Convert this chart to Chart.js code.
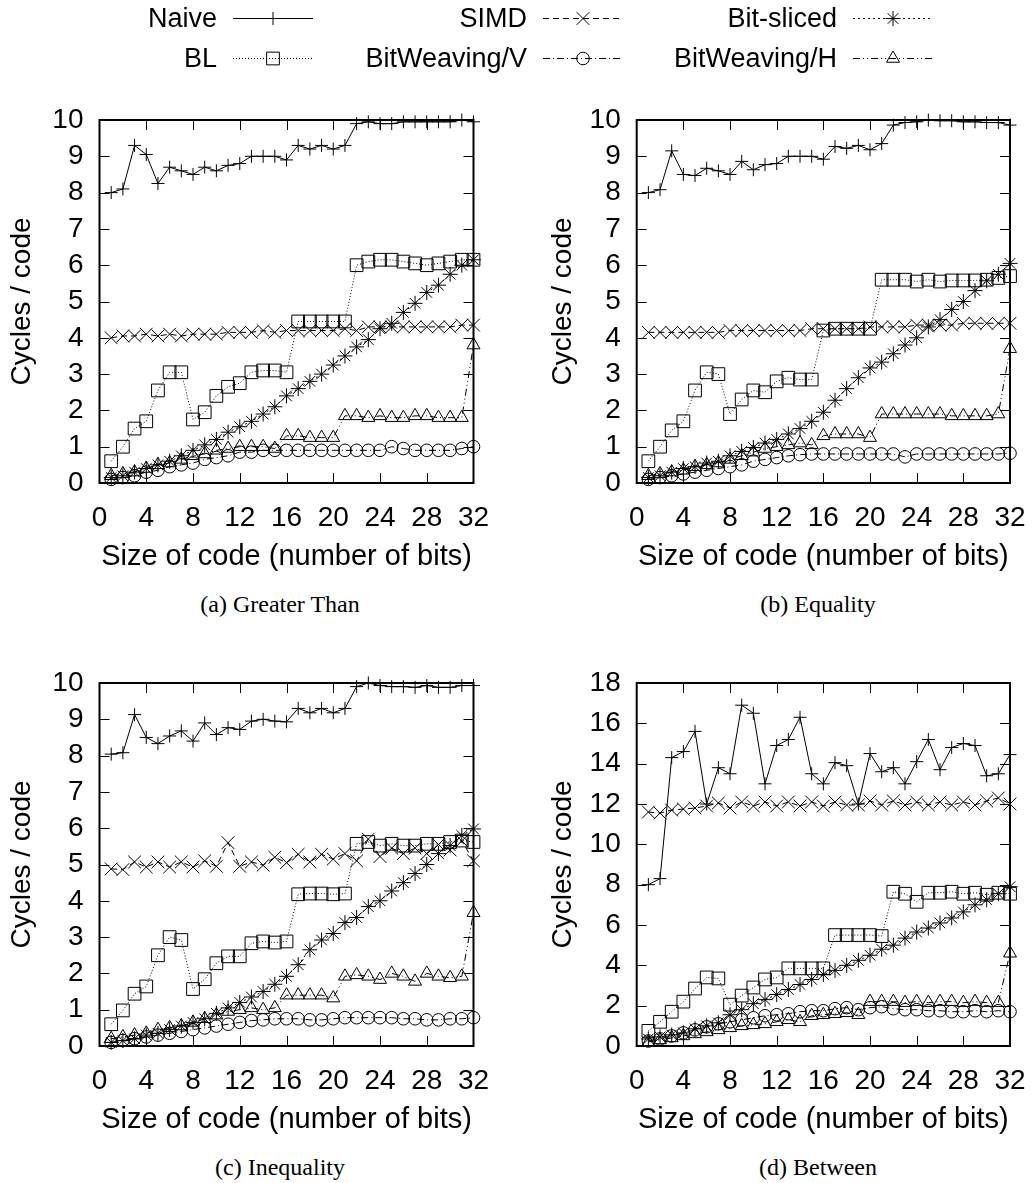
<!DOCTYPE html>
<html><head><meta charset="utf-8">
<script src="https://cdn.jsdelivr.net/npm/chart.js@4.4.1/dist/chart.umd.min.js"></script>
<style>
html,body{margin:0;padding:0;background:#fff;}
body{width:1035px;height:1183px;position:relative;overflow:hidden;font-family:"Liberation Sans",Arial,sans-serif;}
canvas{position:absolute;}
.lg{position:absolute;font-size:27px;color:#000;white-space:nowrap;line-height:30px;text-align:right;}
.cap{position:absolute;font-family:"Liberation Serif",serif;font-size:24px;line-height:30px;white-space:nowrap;color:#000;transform:translateX(-50%);}
</style></head><body>
<canvas id="legendCanvas" width="1035" height="80" style="left:0;top:0"></canvas>
<div class="lg" style="right:818px;top:3px">Naive</div>
<div class="lg" style="right:508px;top:3px">SIMD</div>
<div class="lg" style="right:198px;top:3px">Bit-sliced</div>
<div class="lg" style="right:818px;top:43px">BL</div>
<div class="lg" style="right:508px;top:43px">BitWeaving/V</div>
<div class="lg" style="right:198px;top:43px">BitWeaving/H</div>
<canvas id="cA" width="520" height="480" style="left:0;top:100px"></canvas>
<canvas id="cB" width="515" height="480" style="left:520px;top:100px"></canvas>
<canvas id="cC" width="520" height="480" style="left:0;top:663px"></canvas>
<canvas id="cD" width="515" height="480" style="left:520px;top:663px"></canvas>
<div class="cap" id="capA" style="left:280px;top:589px"></div>
<div class="cap" id="capB" style="left:818px;top:589px"></div>
<div class="cap" id="capC" style="left:280px;top:1152px"></div>
<div class="cap" id="capD" style="left:818px;top:1152px"></div>
<script>
// ---------- data ----------
const bits = [1,2,3,4,5,6,7,8,9,10,11,12,13,14,15,16,17,18,19,20,21,22,23,24,25,26,27,28,29,30,31,32];
const seriesNames = ["Naive","SIMD","Bit-sliced","BL","BitWeaving/V","BitWeaving/H"];
const xTickValues = [0,4,8,12,16,20,24,28,32];
const yTicks10 = [0,1,2,3,4,5,6,7,8,9,10];
const yTicks18 = [0,2,4,6,8,10,12,14,16,18];
const captions = ["(a) Greater Than","(b) Equality","(c) Inequality","(d) Between"];
const xTitle = "Size of code (number of bits)";
const yTitle = "Cycles / code";

// (a) Greater Than
const naiveA = [8.0,8.1,9.3,9.05,8.25,8.7,8.6,8.5,8.7,8.6,8.75,8.8,9.0,9.0,9.0,8.9,9.3,9.2,9.3,9.2,9.3,9.9,9.95,9.9,9.9,9.95,9.95,9.95,9.95,9.95,10.0,9.95];
const simdA = [4.0,4.05,4.05,4.1,4.05,4.1,4.05,4.1,4.1,4.1,4.15,4.15,4.15,4.2,4.15,4.2,4.2,4.2,4.2,4.2,4.25,4.2,4.3,4.3,4.3,4.3,4.3,4.3,4.3,4.3,4.35,4.35];
const bsA = [0.15,0.2,0.3,0.4,0.5,0.6,0.75,0.9,1.05,1.2,1.4,1.55,1.7,1.9,2.1,2.4,2.6,2.8,3.0,3.25,3.5,3.75,3.95,4.25,4.4,4.7,4.95,5.25,5.45,5.75,6.0,6.15];
const blA = [0.6,1.0,1.5,1.7,2.55,3.05,3.05,1.75,1.95,2.4,2.65,2.75,3.05,3.1,3.1,3.05,4.45,4.45,4.45,4.45,4.45,6.0,6.1,6.15,6.15,6.1,6.05,6.0,6.05,6.1,6.15,6.15];
const bwvA = [0.1,0.15,0.2,0.3,0.35,0.45,0.5,0.55,0.65,0.7,0.75,0.85,0.85,0.9,0.9,0.9,0.9,0.9,0.9,0.9,0.9,0.9,0.9,0.9,1.0,0.95,0.9,0.9,0.9,0.9,0.95,1.0];
const bwhA = [0.2,0.25,0.3,0.4,0.5,0.55,0.65,0.75,0.8,0.9,0.95,1.0,1.0,1.0,0.95,1.3,1.3,1.25,1.25,1.25,1.85,1.85,1.8,1.85,1.8,1.8,1.85,1.85,1.8,1.8,1.8,3.8];

// (b) Equality
const naiveB = [8.0,8.08,9.15,8.5,8.47,8.67,8.6,8.5,8.86,8.63,8.77,8.8,9.0,9.0,9.0,8.92,9.27,9.22,9.3,9.18,9.35,9.86,9.93,9.95,10.0,9.98,9.98,9.95,9.95,9.93,9.93,9.86];
const simdB = [4.15,4.15,4.15,4.15,4.15,4.15,4.15,4.2,4.2,4.2,4.2,4.2,4.2,4.2,4.25,4.25,4.25,4.25,4.25,4.3,4.3,4.3,4.3,4.35,4.35,4.35,4.35,4.4,4.4,4.4,4.4,4.4];
const bsB = [0.15,0.2,0.3,0.4,0.45,0.55,0.6,0.75,0.87,0.98,1.1,1.2,1.35,1.5,1.7,1.95,2.28,2.6,2.9,3.17,3.33,3.56,3.8,4.0,4.3,4.5,4.78,5.0,5.3,5.57,5.75,6.05];
const blB = [0.6,1.0,1.45,1.7,2.55,3.05,3.0,1.9,2.3,2.55,2.5,2.8,2.9,2.85,2.85,4.2,4.25,4.25,4.25,4.25,5.6,5.6,5.6,5.55,5.6,5.55,5.58,5.58,5.58,5.6,5.65,5.7];
const bwvB = [0.1,0.15,0.2,0.25,0.3,0.35,0.4,0.45,0.5,0.6,0.65,0.7,0.75,0.78,0.8,0.8,0.8,0.8,0.8,0.8,0.8,0.8,0.72,0.8,0.8,0.8,0.8,0.8,0.8,0.8,0.8,0.82];
const bwhB = [0.2,0.25,0.3,0.35,0.45,0.5,0.55,0.65,0.75,0.85,0.95,1.0,1.05,1.1,1.05,1.3,1.35,1.35,1.35,1.25,1.9,1.9,1.9,1.9,1.9,1.9,1.85,1.85,1.85,1.85,1.9,3.7];

// (c) Inequality
const naiveC = [8.04,8.08,9.13,8.5,8.33,8.54,8.68,8.4,8.9,8.58,8.77,8.72,8.95,9.0,8.95,8.93,9.3,9.18,9.3,9.18,9.3,9.9,10.0,9.93,9.9,9.9,9.88,9.93,9.88,9.88,9.93,9.93];
const simdC = [4.88,4.86,5.07,4.93,5.07,4.93,5.07,4.93,5.1,4.95,5.6,4.95,5.07,4.98,5.2,5.05,5.28,5.07,5.28,5.15,5.3,5.1,5.7,5.22,5.45,5.3,5.45,5.3,5.55,5.4,5.65,5.1];
const bsC = [0.1,0.15,0.2,0.3,0.35,0.45,0.55,0.65,0.75,0.9,1.05,1.2,1.35,1.5,1.7,1.92,2.24,2.65,2.92,3.1,3.4,3.54,3.84,4.0,4.27,4.5,4.75,5.0,5.3,5.52,5.8,5.98];
const blC = [0.6,0.98,1.44,1.64,2.5,3.0,2.92,1.57,1.84,2.28,2.47,2.47,2.83,2.88,2.85,2.88,4.18,4.2,4.2,4.18,4.2,5.57,5.62,5.52,5.57,5.52,5.52,5.57,5.57,5.62,5.66,5.62];
const bwvC = [0.1,0.15,0.2,0.25,0.3,0.35,0.4,0.45,0.5,0.55,0.6,0.65,0.7,0.72,0.75,0.75,0.75,0.72,0.72,0.75,0.78,0.78,0.78,0.78,0.78,0.75,0.75,0.72,0.72,0.75,0.75,0.78];
const bwhC = [0.2,0.25,0.3,0.35,0.45,0.5,0.55,0.65,0.75,0.85,0.95,1.0,1.05,1.0,1.05,1.4,1.4,1.4,1.4,1.32,1.92,1.96,1.92,1.83,2.0,1.92,1.78,2.0,1.92,1.88,1.92,3.67];

// (d) Between
const naiveD = [8.0,8.3,14.3,14.6,15.6,12.0,13.8,13.5,16.9,16.5,13.0,14.9,15.2,16.3,13.5,13.0,14.05,13.9,12.0,14.5,13.6,13.8,13.0,14.1,15.2,13.7,14.8,15.0,14.9,13.4,13.5,14.45];
const simdD = [11.6,11.55,11.7,11.75,11.8,11.9,12.05,11.8,12.1,11.9,12.1,11.9,12.1,11.9,12.1,11.9,12.1,11.95,11.95,12.15,11.95,12.15,11.95,12.1,11.95,12.1,11.95,12.1,11.95,12.15,12.3,12.0];
const bsD = [0.35,0.45,0.55,0.65,0.85,1.0,1.15,1.55,1.8,2.1,2.3,2.55,2.8,3.05,3.3,3.55,3.75,4.0,4.25,4.5,4.8,5.0,5.35,5.65,5.85,6.1,6.35,6.65,7.0,7.25,7.55,7.9];
const blD = [0.75,1.2,1.7,2.2,2.85,3.4,3.35,2.05,2.5,2.9,3.3,3.4,3.85,3.85,3.85,3.85,5.5,5.5,5.5,5.5,5.45,7.65,7.55,7.15,7.6,7.6,7.65,7.55,7.6,7.5,7.6,7.55];
const bwvD = [0.25,0.35,0.5,0.65,0.8,0.95,1.1,1.2,1.3,1.4,1.5,1.55,1.6,1.7,1.75,1.75,1.85,1.9,1.8,1.9,1.95,1.85,1.8,1.8,1.75,1.75,1.7,1.7,1.75,1.7,1.75,1.7];
const bwhD = [0.2,0.3,0.4,0.5,0.6,0.7,0.8,0.9,1.0,1.05,1.1,1.2,1.3,1.2,1.5,1.55,1.6,1.65,1.55,2.2,2.2,2.2,2.15,2.2,2.15,2.2,2.2,2.15,2.2,2.15,2.15,4.6];

// ---------- styles ----------
const INK = '#000';
const FONT = '"Liberation Sans", Arial, sans-serif';
const STYLES = [
  {dash: [], ps: 'cross', r: 6.5},
  {dash: [6, 4], ps: 'crossRot', r: 9},
  {dash: [2, 3], ps: 'star', r: 7.5},
  {dash: [1, 2], ps: 'rect', r: 9},
  {dash: [7, 3, 1, 3], ps: 'circle', r: 6.3},
  {dash: [7, 3, 1, 3, 1, 3], ps: 'triangle', r: 7.5}
];
const TICK = 10;

const framePlugin = {
  id: 'frame',
  beforeDatasetsDraw(chart) {
    const {ctx, chartArea: a, scales: {x, y}} = chart;
    ctx.save();
    ctx.strokeStyle = INK; ctx.lineWidth = 1; ctx.setLineDash([]);
    ctx.beginPath();
    x.ticks.forEach(t => {
      const px = Math.round(x.getPixelForValue(t.value)) + 0.5;
      if (px > a.left + 2 && px < a.right - 2) {
        ctx.moveTo(px, a.bottom); ctx.lineTo(px, a.bottom - TICK);
        ctx.moveTo(px, a.top); ctx.lineTo(px, a.top + TICK);
      }
    });
    y.ticks.forEach(t => {
      const py = Math.round(y.getPixelForValue(t.value)) + 0.5;
      if (py > a.top + 2 && py < a.bottom - 2) {
        ctx.moveTo(a.left, py); ctx.lineTo(a.left + TICK, py);
        ctx.moveTo(a.right, py); ctx.lineTo(a.right - TICK, py);
      }
    });
    ctx.stroke();
    ctx.lineWidth = 2;
    ctx.strokeRect(a.left, a.top, a.right - a.left, a.bottom - a.top);
    ctx.restore();
  }
};

function makeChart(id, seriesVals, yTicks, yMax, col) {
  const L = col === 0
    ? {yWidth: 99.5, padRight: 46.5, titleTop: 5}
    : {yWidth: 116.7, padRight: 25, titleTop: 26};
  const datasets = seriesVals.map((vals, i) => ({
    label: seriesNames[i],
    data: bits.map((b, j) => ({x: b, y: vals[j]})),
    borderColor: INK, borderWidth: 1, borderDash: STYLES[i].dash,
    pointStyle: STYLES[i].ps, pointRadius: STYLES[i].r, pointHoverRadius: STYLES[i].r,
    pointBorderColor: INK, pointBackgroundColor: 'rgba(0,0,0,0)', pointBorderWidth: 1,
    fill: false, tension: 0, clip: false
  }));
  const hiddenTicks = {display: true, drawOnChartArea: false, drawTicks: true, color: 'rgba(0,0,0,0)'};
  return new Chart(document.getElementById(id), {
    type: 'line',
    data: {datasets},
    options: {
      responsive: false, animation: false, events: [],
      layout: {padding: {left: 0, top: 20, right: L.padRight, bottom: 0}},
      plugins: {legend: {display: false}, tooltip: {enabled: false}},
      scales: {
        x: {
          type: 'linear', min: 0, max: 32,
          afterBuildTicks: s => { s.ticks = xTickValues.map(v => ({value: v})); },
          grid: Object.assign({tickLength: 18}, hiddenTicks), border: {display: false},
          ticks: {padding: 0, color: INK, font: {family: FONT, size: 28}, maxRotation: 0, autoSkip: false},
          title: {display: true, text: xTitle, color: INK,
                  font: {family: FONT, size: 29}, padding: {top: 0, bottom: 6}},
          afterFit: s => { s.height = 97; }
        },
        y: {
          type: 'linear', min: 0, max: yMax,
          afterBuildTicks: s => { s.ticks = yTicks.map(v => ({value: v})); },
          grid: Object.assign({tickLength: 16}, hiddenTicks), border: {display: false},
          ticks: {padding: 0, color: INK, font: {family: FONT, size: 28}, autoSkip: false},
          title: {display: true, text: yTitle, color: INK,
                  font: {family: FONT, size: 28}, padding: {top: L.titleTop, bottom: 0}},
          afterFit: s => { s.width = L.yWidth; }
        }
      }
    },
    plugins: [framePlugin]
  });
}

makeChart('cA', [naiveA, simdA, bsA, blA, bwvA, bwhA], yTicks10, 10, 0);
makeChart('cB', [naiveB, simdB, bsB, blB, bwvB, bwhB], yTicks10, 10, 1);
makeChart('cC', [naiveC, simdC, bsC, blC, bwvC, bwhC], yTicks10, 10, 0);
makeChart('cD', [naiveD, simdD, bsD, blD, bwvD, bwhD], yTicks18, 18, 1);
['capA','capB','capC','capD'].forEach((id, i) => { document.getElementById(id).textContent = captions[i]; });

// ---------- legend samples ----------
(function () {
  const cv = document.getElementById('legendCanvas');
  const ctx = cv.getContext('2d');
  const cols = [[233, 313], [543, 623], [853, 933]];
  const rows = [18, 58];
  for (let i = 0; i < 6; i++) {
    const c = cols[i % 3], yy = rows[Math.floor(i / 3)] + 0.5;
    ctx.save();
    ctx.strokeStyle = INK; ctx.lineWidth = 1; ctx.setLineDash(STYLES[i].dash);
    ctx.beginPath(); ctx.moveTo(c[0], yy); ctx.lineTo(c[1], yy); ctx.stroke();
    ctx.setLineDash([]);
    ctx.fillStyle = 'rgba(0,0,0,0)';
    Chart.helpers.drawPoint(ctx, {pointStyle: STYLES[i].ps, radius: STYLES[i].r, rotation: 0, borderWidth: 1},
      (c[0] + c[1]) / 2, yy);
    ctx.restore();
  }
})();
</script>
</body></html>
